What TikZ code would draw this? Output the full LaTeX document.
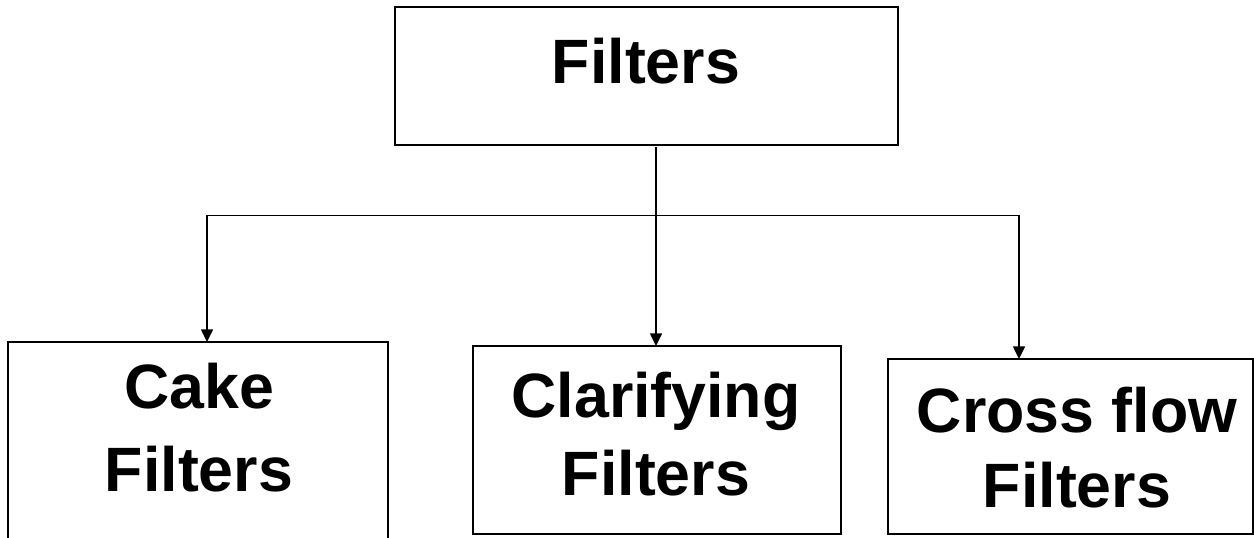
\documentclass[tikz,border=0pt]{standalone}
\usepackage{fontspec}
\setmainfont{Liberation Sans}
\usetikzlibrary{arrows.meta}
\begin{document}
\begin{tikzpicture}[x=0.75pt,y=-0.75pt,
  boxnode/.style={draw=black,line width=1.1pt,fill=white,inner sep=0pt,outer sep=0pt,anchor=north west},
  lbl/.style={font=\fontsize{47}{56}\selectfont\bfseries,inner sep=0pt,anchor=base},
  conn/.style={draw=black,line width=1.1pt},
  arr/.style={conn,-{Triangle[length=9.5pt,width=9pt]}}]
\clip (0,0) rectangle (1254,538);
\fill[white] (0,0) rectangle (1254,538);
% boxes
\node[boxnode,minimum width=503*0.75pt,minimum height=138*0.75pt] (top) at (395,7) {};
\node[boxnode,minimum width=380*0.75pt,minimum height=210*0.75pt] (cake) at (8,342) {};
\node[boxnode,minimum width=368*0.75pt,minimum height=188*0.75pt] (clar) at (473,346) {};
\node[boxnode,minimum width=365*0.75pt,minimum height=175*0.75pt] (cross) at (888,359) {};
% labels
\node[lbl] (tfilt) at (646,84) {Filters};
\node[lbl] (cake1) at (199,409) {Cake};
\node[lbl] (cake2) at (199,491) {Filters};
\node[lbl] (clar1) at (656,417) {Clarifying};
\node[lbl] (clar2) at (656,495) {Filters};
\node[lbl] (cross1) at (1077,433) {Cross flow};
\node[lbl] (cross2) at (1077,507) {Filters};
% connectors
\coordinate (jl) at (207,215.5);
\coordinate (jr) at (1019,215.5);
\coordinate (mid) at (656,147);
\draw[conn] (jl) -- (jr);
\draw[arr] (mid) -- (mid |- clar.north);
\draw[arr] (jl) -- (jl |- cake.north);
\draw[arr] (jr) -- (jr |- cross.north);
\end{tikzpicture}
\end{document}
